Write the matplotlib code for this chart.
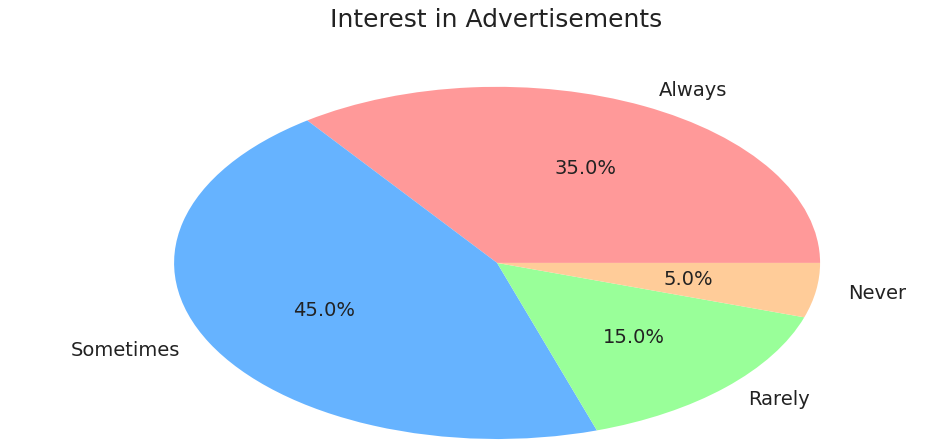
import matplotlib
matplotlib.use('Agg')
from matplotlib import pyplot as plt

# Respuestas de la encuesta
categorias = ['Always', 'Sometimes', 'Rarely', 'Never']
porcentajes = [35, 45, 15, 5]
colores = ['#ff9999', '#66b3ff', '#99ff99', '#ffcc99']

fig = plt.figure(figsize=(9.41, 4.43), dpi=100)
ax = fig.add_axes([0.185, 0.009, 0.6865, 0.795])

wedges, textos, autotextos = ax.pie(porcentajes, labels=categorias, colors=colores,
                                    autopct='%1.1f%%', startangle=0,
                                    textprops={'fontsize': 14, 'color': '#222222'})

# el grafico queda estirado a lo ancho
ax.set_aspect('auto')
ax.set_xlim(-1, 1)
ax.set_ylim(-1, 1)

fig.text(0.527, 0.955, 'Interest in Advertisements', ha='center', va='center',
         fontsize=18, color='#222222')

fig.savefig('out.png', dpi=100)
